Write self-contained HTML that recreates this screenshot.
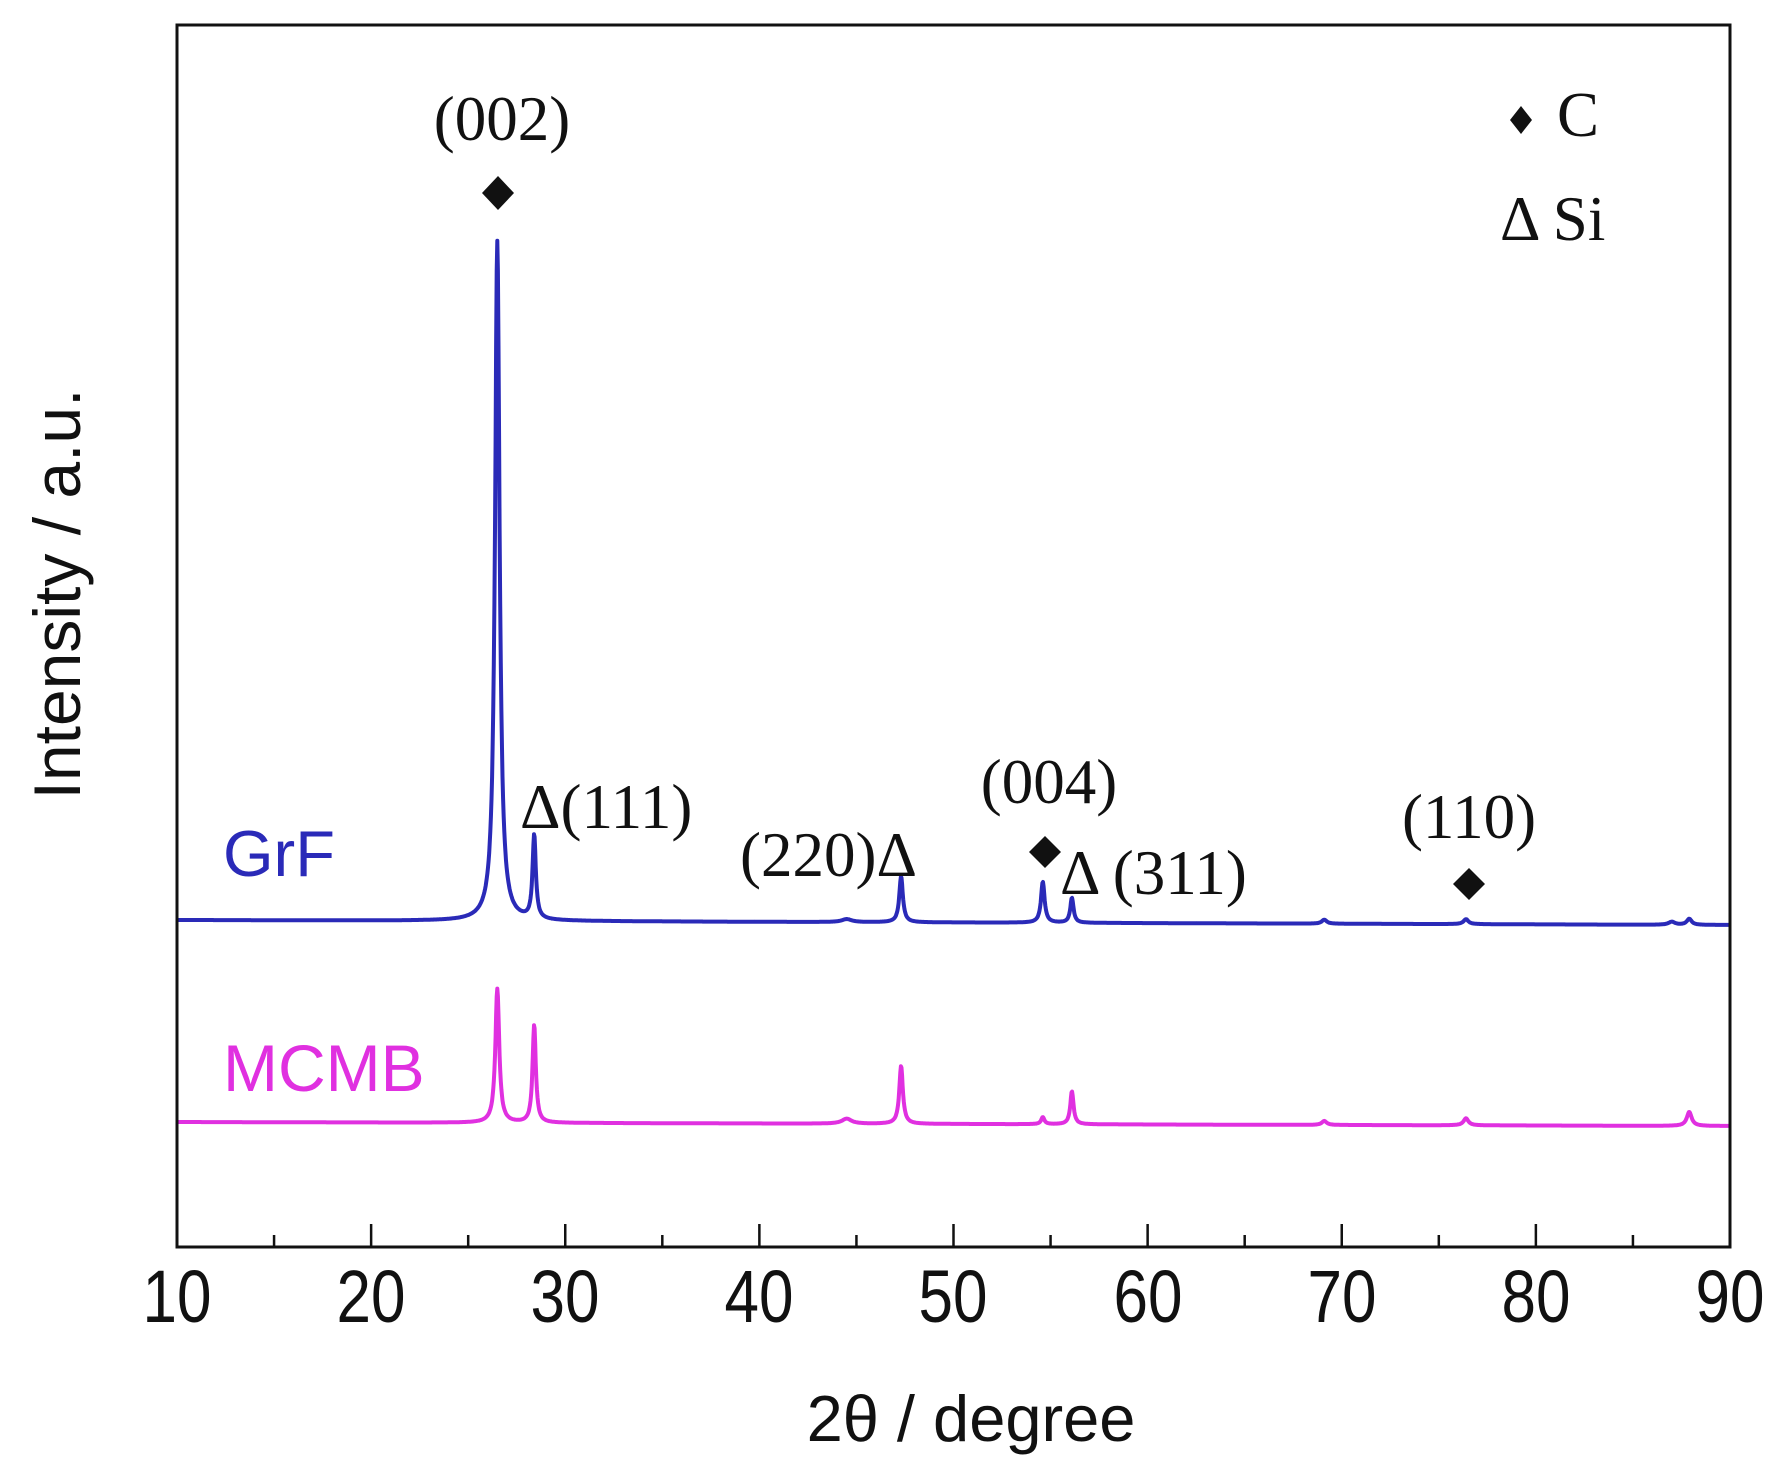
<!DOCTYPE html>
<html><head><meta charset="utf-8"><style>
html,body{margin:0;padding:0;background:#fff;}
svg{display:block;}
.s{font-family:"Liberation Sans",sans-serif;}
.r{font-family:"Liberation Serif",serif;}
</style></head><body>
<svg id="c" width="1787" height="1471" viewBox="0 0 1787 1471" xmlns="http://www.w3.org/2000/svg">
<rect width="1787" height="1471" fill="#fff"/>
<path id="grf" fill="none" stroke="#2a2ab8" stroke-width="4" stroke-linejoin="round"/>
<path id="mcmb" fill="none" stroke="#e030e0" stroke-width="4" stroke-linejoin="round"/>
<rect x="177" y="25" width="1553" height="1222" fill="none" stroke="#111" stroke-width="3"/>
<g id="ticks" stroke="#111" stroke-width="2.5"></g>
<g class="s" font-size="62" fill="#111" text-anchor="middle" transform="translate(0,1322) scale(1,1.2)">
<text x="177" y="0">10</text><text x="371" y="0">20</text><text x="565" y="0">30</text><text x="759" y="0">40</text><text x="953" y="0">50</text><text x="1148" y="0">60</text><text x="1342" y="0">70</text><text x="1536" y="0">80</text><text x="1730" y="0">90</text>
</g>
<text class="s" x="971" y="1441" font-size="65" text-anchor="middle" fill="#111">2θ / degree</text>
<text class="s" font-size="66" text-anchor="middle" fill="#111" transform="translate(80,594) rotate(-90)">Intensity / a.u.</text>
<text class="s" x="223" y="876" font-size="65" fill="#2a2ab8">GrF</text>
<text class="s" x="223" y="1091" font-size="66" fill="#e030e0">MCMB</text>
<g class="r" font-size="63" fill="#111">
<text x="502" y="140" text-anchor="middle">(002)</text>
<text x="520" y="828">Δ(111)</text>
<text x="740" y="876">(220)Δ</text>
<text x="1049" y="803" text-anchor="middle">(004)</text>
<text x="1060" y="894">Δ (311)</text>
<text x="1469" y="838" text-anchor="middle">(110)</text>
<text x="1557" y="136">C</text>
<text x="1500" y="240">Δ Si</text>
</g>
<g fill="#111">
<path d="M498,176 l16,17 l-16,17 l-16,-17z"/>
<path d="M1045,836 l16,16 l-16,16 l-16,-16z"/>
<path d="M1469,868 l16,16 l-16,16 l-16,-16z"/>
<path d="M1521,106 l11,14 l-11,14 l-11,-14z"/>
</g>
</svg>
<script>
function X(t){return 177+(t-10)*19.4125;}
function build(base0,base1,peaks){
  let d="";
  for(let t=10;t<=90;t+=0.03){
    let y=base0+(base1-base0)*(t-10)/80;
    for(const p of peaks){const u=(t-p[0])/p[2];y-=p[1]/(1+u*u);}
    d+=(d?"L":"M")+X(t).toFixed(1)+","+y.toFixed(1);
  }
  return d;
}
document.getElementById("grf").setAttribute("d",build(920,925,[
 [26.5,680,0.14],[28.4,84,0.1],[47.3,46,0.11],[54.6,41,0.11],[56.1,25,0.1],[44.5,3,0.3],[69.1,4,0.15],[76.4,5,0.15],[87.9,6,0.15],[87.0,3,0.2]]));
document.getElementById("mcmb").setAttribute("d",build(1122,1126,[
 [26.5,134,0.12],[28.4,98,0.1],[47.3,58,0.11],[54.6,7,0.1],[56.1,33,0.1],[44.5,5,0.3],[69.1,4,0.15],[76.4,7,0.15],[87.9,14,0.15]]));
let g=document.getElementById("ticks"),s="";
for(let t=15;t<90;t+=5){const x=X(t),L=(t%10==0)?23:12;s+=`<line x1="${x}" y1="1247" x2="${x}" y2="${1247-L}"/>`;}
g.innerHTML=s;
</script>
</body></html>
